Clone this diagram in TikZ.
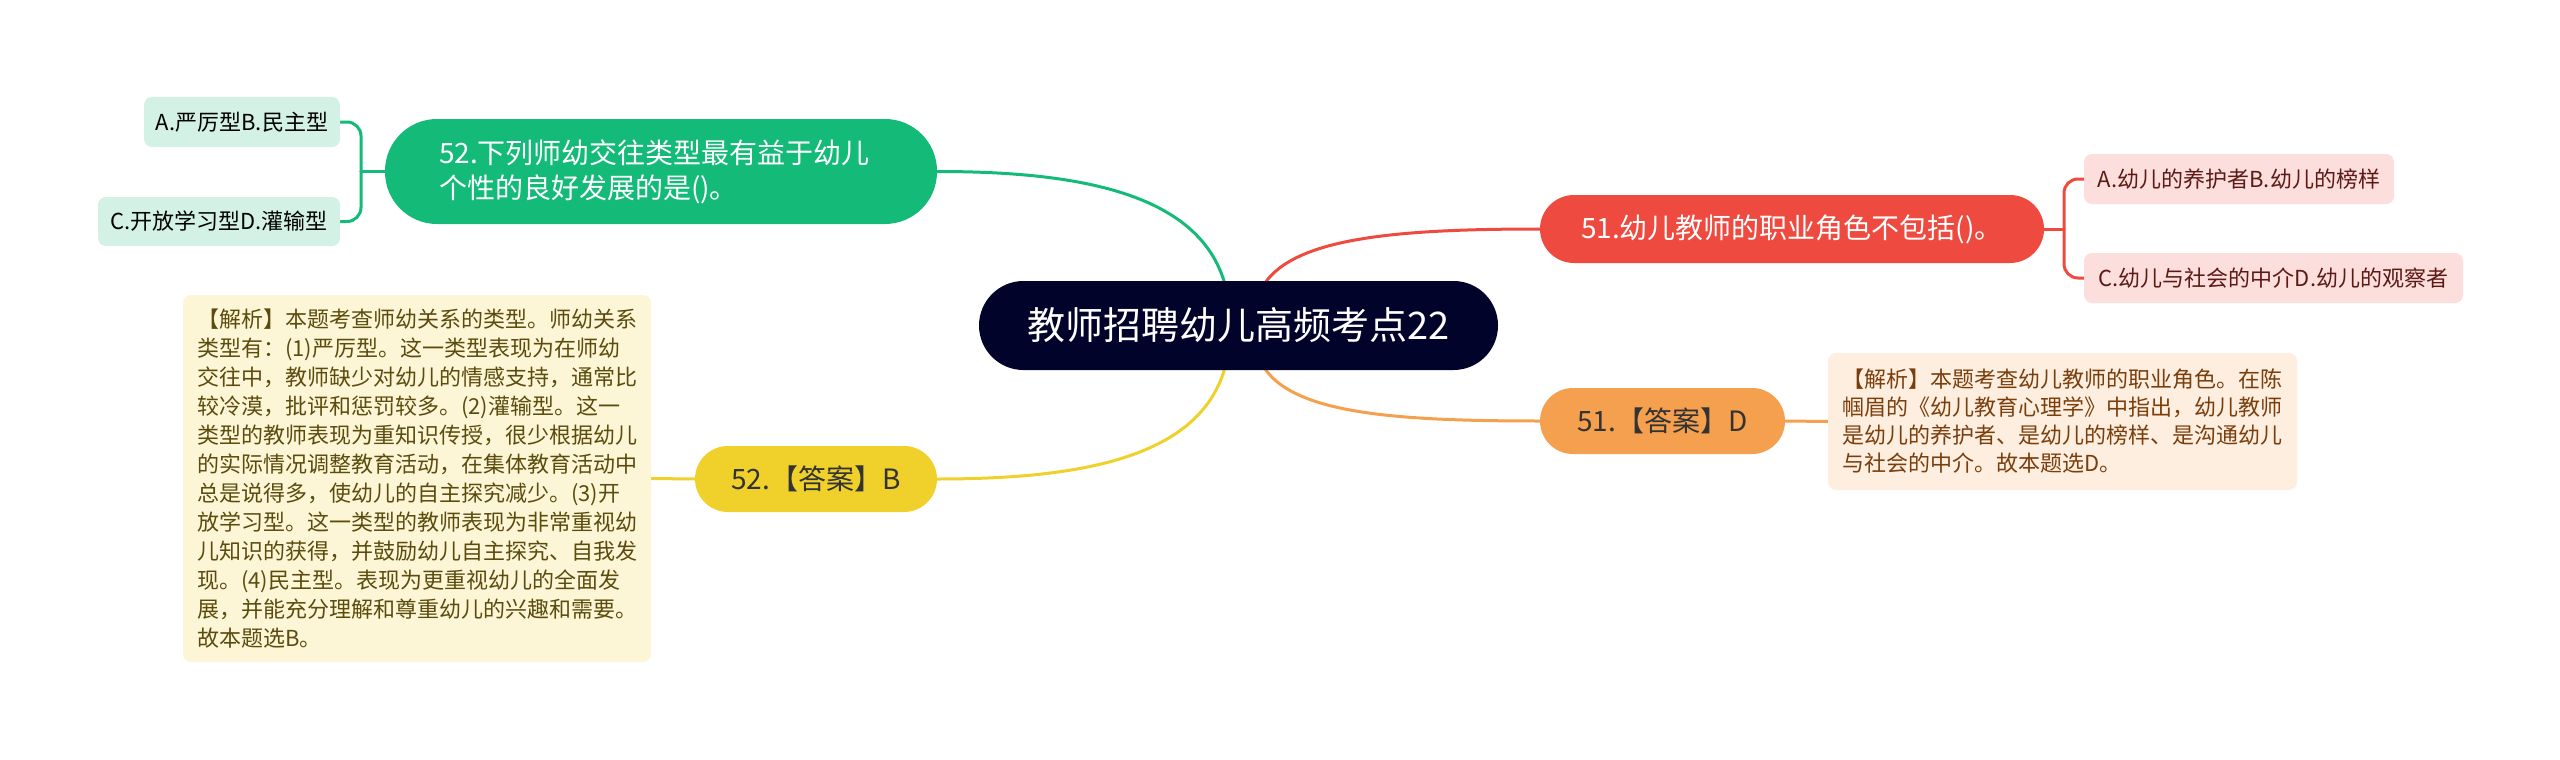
\documentclass[tikz,border=0pt]{standalone}
\usepackage{fontspec}
\setmainfont{Noto Sans CJK SC}
\usetikzlibrary{backgrounds}
\definecolor{rootc}{HTML}{02032B}
\definecolor{greenc}{HTML}{13BA78}
\definecolor{greenl}{HTML}{D3F2E5}
\definecolor{redc}{HTML}{EE4A3F}
\definecolor{redl}{HTML}{FCDEDD}
\definecolor{redt}{HTML}{5C1A14}
\definecolor{orangec}{HTML}{F5A04E}
\definecolor{orangel}{HTML}{FDEEDF}
\definecolor{oranget}{HTML}{7A3E0C}
\definecolor{yellowc}{HTML}{F0D12B}
\definecolor{yellowl}{HTML}{FDF6D6}
\definecolor{yellowt}{HTML}{5B4C0E}
\definecolor{darkt}{HTML}{333333}
\tikzset{
  box/.style={inner sep=0pt, align=center},
  mainbox/.style={box, font=\fontsize{28}{35}\selectfont},
  childbox/.style={box, rounded corners=8pt, font=\fontsize{22}{28}\selectfont},
  notebox/.style={box, rounded corners=8pt, align=left},
  conn/.style={line width=3pt, line cap=round},
}
\begin{document}
\begin{tikzpicture}[x=1pt,y=-1pt]
\useasboundingbox (0,0) rectangle (2560,760);
\begin{scope}[on background layer]
\fill[white] (0,0) rectangle (2560,760);
\end{scope}

% root
\node[box, fill=rootc, text=white, rounded corners=44.5pt, minimum width=519pt, minimum height=89pt, font=\fontsize{38}{44}\selectfont] (root) at (1238.5,325.5) {教师招聘幼儿高频考点22};

% green branch
\node[mainbox, fill=greenc, text=white, rounded corners=52pt, minimum width=552pt, minimum height=105pt, text width=444pt, align=left] (green) at (661,171.5) {52.下列师幼交往类型最有益于幼儿\\个性的良好发展的是()。};
\node[childbox, fill=greenl, text=black, minimum width=196pt, minimum height=50pt] (gA) at (242,122) {A.严厉型B.民主型};
\node[childbox, fill=greenl, text=black, minimum width=242pt, minimum height=49pt] (gC) at (219,221.5) {C.开放学习型D.灌输型};
\coordinate (gj) at (361,171.5);

% red branch
\node[mainbox, fill=redc, text=white, rounded corners=34pt, minimum width=504pt, minimum height=68pt] (red) at (1792,229) {51.幼儿教师的职业角色不包括()。};
\node[childbox, fill=redl, text=redt, minimum width=310pt, minimum height=50pt] (rA) at (2239,179) {A.幼儿的养护者B.幼儿的榜样};
\node[childbox, fill=redl, text=redt, minimum width=379pt, minimum height=50pt] (rC) at (2273.5,278) {C.幼儿与社会的中介D.幼儿的观察者};
\coordinate (rj) at (2064,229);

% orange branch
\node[mainbox, fill=orangec, text=darkt, rounded corners=33pt, minimum width=245pt, minimum height=66pt] (orange) at (1662.5,421) {51.【答案】D};
\node[notebox, fill=orangel, text=oranget, minimum width=469pt, minimum height=137pt, font=\fontsize{22}{28}\selectfont] (onote) at (2062.5,421.5) {【解析】本题考查幼儿教师的职业角色。在陈\\帼眉的《幼儿教育心理学》中指出，幼儿教师\\是幼儿的养护者、是幼儿的榜样、是沟通幼儿\\与社会的中介。故本题选D。};

% yellow branch
\node[mainbox, fill=yellowc, text=darkt, rounded corners=33pt, minimum width=242pt, minimum height=66pt] (yellow) at (816,479) {52.【答案】B};
\node[notebox, fill=yellowl, text=yellowt, minimum width=468pt, minimum height=367pt, font=\fontsize{22}{29}\selectfont] (ynote) at (417,478.5) {【解析】本题考查师幼关系的类型。师幼关系\\类型有：(1)严厉型。这一类型表现为在师幼\\交往中，教师缺少对幼儿的情感支持，通常比\\较冷漠，批评和惩罚较多。(2)灌输型。这一\\类型的教师表现为重知识传授，很少根据幼儿\\的实际情况调整教育活动，在集体教育活动中\\总是说得多，使幼儿的自主探究减少。(3)开\\放学习型。这一类型的教师表现为非常重视幼\\儿知识的获得，并鼓励幼儿自主探究、自我发\\现。(4)民主型。表现为更重视幼儿的全面发\\展，并能充分理解和尊重幼儿的兴趣和需要。\\故本题选B。};

\coordinate (sg) at (1230,326);
\coordinate (sy) at (1230,326);
\coordinate (sr) at (1257,300);
\coordinate (so) at (1257,352);

\begin{scope}[on background layer]
% root connectors
\draw[conn, draw=greenc] (sg) .. controls (1232,200) and (1100,171.5) .. (green.east);
\draw[conn, draw=redc] (sr) .. controls (1274,240) and (1380,229) .. (red.west);
\draw[conn, draw=orangec] (so) .. controls (1274,412) and (1380,421) .. (orange.west);
\draw[conn, draw=yellowc] (sy) .. controls (1232,452) and (1100,479) .. (yellow.east);
% green bracket
\draw[conn, draw=greenc] (green.west) -- (gj);
\draw[conn, draw=greenc, rounded corners=14pt] (gA.east) -| (gj);
\draw[conn, draw=greenc, rounded corners=14pt] (gC.east) -| (gj);
% red bracket
\draw[conn, draw=redc] (red.east) -- (rj);
\draw[conn, draw=redc, rounded corners=14pt] (rA.west) -| (rj);
\draw[conn, draw=redc, rounded corners=14pt] (rC.west) -| (rj);
% answer notes
\draw[conn, draw=orangec] (orange.east) -- (onote.west);
\draw[conn, draw=yellowc] (yellow.west) -- (ynote.east);
\end{scope}
\end{tikzpicture}
\end{document}
